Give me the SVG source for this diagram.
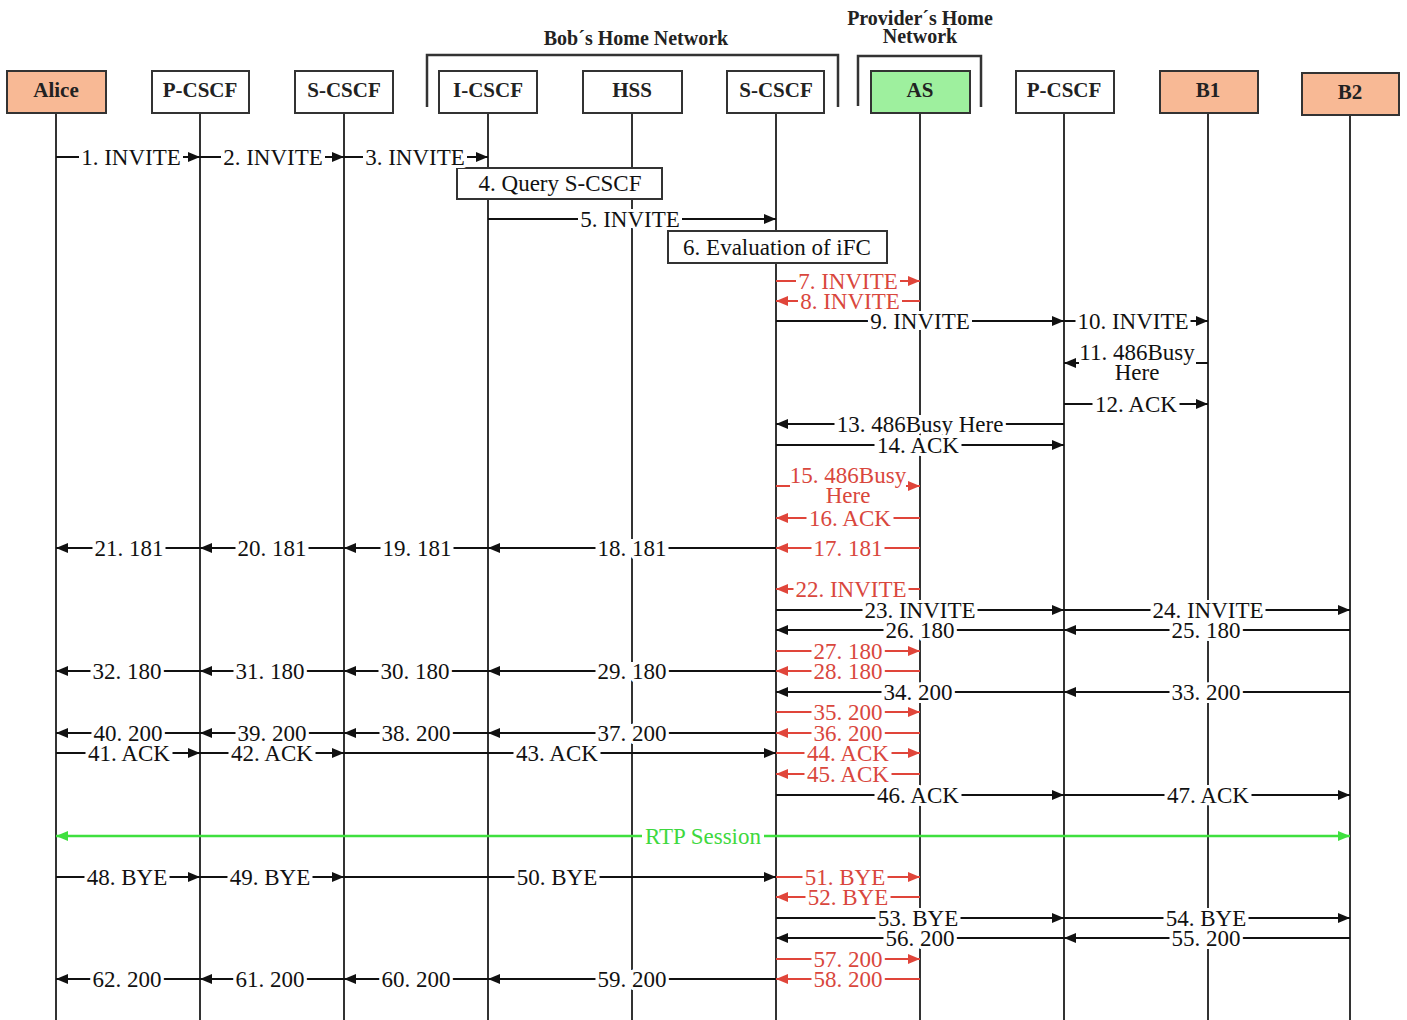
<svg xmlns="http://www.w3.org/2000/svg" width="1407" height="1020" viewBox="0 0 1407 1020">
<style>
.life{stroke:#333;stroke-width:2}
.box{stroke:#333;stroke-width:2;fill:#fff}
.peer{fill:#f8b995}
.as{fill:#9ef09e}
.hdr{font-family:"Liberation Serif",serif;font-weight:bold;font-size:21px;text-anchor:middle;fill:#222}
.net{font-family:"Liberation Serif",serif;font-weight:bold;font-size:20px;text-anchor:middle;fill:#222}
.br{stroke:#333;stroke-width:2.5;fill:none}
.m{stroke:#111;stroke-width:1.8;fill:none;marker-end:url(#ab)}
.r{stroke:#e0453a;marker-end:url(#ar)}
.g{stroke:#3ee03e;stroke-width:2.5;marker-end:url(#ag);marker-start:url(#ags)}
.t{font-family:"Liberation Serif",serif;font-size:23px;text-anchor:middle;fill:#111;stroke:#fff;stroke-width:6px;paint-order:stroke;stroke-linejoin:round}
.n{font-family:"Liberation Serif",serif;font-size:23px;text-anchor:middle;fill:#111}
.tr{fill:#d9473d}
.tg{fill:#3ed83e}
.bg{fill:#fff}
.note{fill:#fff;stroke:#333;stroke-width:2}
</style>
<defs>
<marker id="ab" markerUnits="userSpaceOnUse" markerWidth="13" markerHeight="11" refX="12" refY="5" orient="auto"><path d="M0,0 L12,5 L0,10 z" fill="#111"/></marker>
<marker id="ar" markerUnits="userSpaceOnUse" markerWidth="13" markerHeight="11" refX="12" refY="5" orient="auto"><path d="M0,0 L12,5 L0,10 z" fill="#e0453a"/></marker>
<marker id="ag" markerUnits="userSpaceOnUse" markerWidth="13" markerHeight="11" refX="12" refY="5" orient="auto"><path d="M0,0 L12,5 L0,10 z" fill="#3ee03e"/></marker>
<marker id="ags" markerUnits="userSpaceOnUse" markerWidth="13" markerHeight="11" refX="0" refY="5" orient="auto"><path d="M12,0 L0,5 L12,10 z" fill="#3ee03e"/></marker>
</defs>
<rect width="1407" height="1020" fill="#fff"/>

<g id="bob-network">
<path class="br" d="M427,107 V55 H838 V107"/>
<text class="net" x="636" y="45">Bob´s Home Network</text>
</g>
<g id="provider-network">
<path class="br" d="M858,106 V56 H981 V107"/>
<text class="net" x="920" y="25">Provider´s Home</text>
<text class="net" x="920" y="43">Network</text>
</g>

<g id="alice"><line class="life" x1="56" y1="113" x2="56" y2="1020"/><rect class="box peer" x="7" y="71" width="99" height="42"/><text class="hdr" x="56" y="97">Alice</text></g>
<g id="pcscf1"><line class="life" x1="200" y1="113" x2="200" y2="1020"/><rect class="box" x="152" y="71" width="97" height="42"/><text class="hdr" x="200" y="97">P-CSCF</text></g>
<g id="scscf1"><line class="life" x1="344" y1="113" x2="344" y2="1020"/><rect class="box" x="295" y="71" width="98" height="42"/><text class="hdr" x="344" y="97">S-CSCF</text></g>
<g id="icscf"><line class="life" x1="488" y1="113" x2="488" y2="1020"/><rect class="box" x="439" y="71" width="98" height="42"/><text class="hdr" x="488" y="97">I-CSCF</text></g>
<g id="hss"><line class="life" x1="632" y1="113" x2="632" y2="1020"/><rect class="box" x="583" y="71" width="99" height="42"/><text class="hdr" x="632" y="97">HSS</text></g>
<g id="scscf2"><line class="life" x1="776" y1="113" x2="776" y2="1020"/><rect class="box" x="727" y="71" width="97" height="42"/><text class="hdr" x="776" y="97">S-CSCF</text></g>
<g id="as"><line class="life" x1="920" y1="113" x2="920" y2="1020"/><rect class="box as" x="871" y="71" width="99" height="42"/><text class="hdr" x="920" y="97">AS</text></g>
<g id="pcscf2"><line class="life" x1="1064" y1="113" x2="1064" y2="1020"/><rect class="box" x="1016" y="71" width="98" height="42"/><text class="hdr" x="1064" y="97">P-CSCF</text></g>
<g id="b1"><line class="life" x1="1208" y1="113" x2="1208" y2="1020"/><rect class="box peer" x="1160" y="71" width="98" height="42"/><text class="hdr" x="1208" y="97">B1</text></g>
<g id="b2"><line class="life" x1="1350" y1="115" x2="1350" y2="1020"/><rect class="box peer" x="1302" y="73" width="97" height="42"/><text class="hdr" x="1350" y="99">B2</text></g>

<g id="query-note"><rect class="note" x="457" y="168" width="205" height="31"/><text class="n" x="560" y="191">4. Query S-CSCF</text></g>
<g id="ifc-note"><rect class="note" x="668" y="231" width="219" height="32"/><text class="n" x="777" y="255">6. Evaluation of iFC</text></g>

<g id="connectors">
<line class="m" x1="56" y1="157" x2="200" y2="157"/>
<line class="m" x1="200" y1="157" x2="344" y2="157"/>
<line class="m" x1="344" y1="157" x2="488" y2="157"/>
<line class="m" x1="488" y1="219" x2="776" y2="219"/>
<line class="m r" x1="776" y1="281" x2="920" y2="281"/>
<line class="m r" x1="920" y1="301" x2="776" y2="301"/>
<line class="m" x1="776" y1="321" x2="1064" y2="321"/>
<line class="m" x1="1064" y1="321" x2="1208" y2="321"/>
<line class="m" x1="1208" y1="363" x2="1064" y2="363"/>
<line class="m" x1="1064" y1="404" x2="1208" y2="404"/>
<line class="m" x1="1064" y1="424" x2="776" y2="424"/>
<line class="m" x1="776" y1="445" x2="1064" y2="445"/>
<line class="m r" x1="776" y1="486" x2="920" y2="486"/>
<line class="m r" x1="920" y1="518" x2="776" y2="518"/>
<line class="m r" x1="920" y1="548" x2="776" y2="548"/>
<line class="m" x1="776" y1="548" x2="488" y2="548"/>
<line class="m" x1="488" y1="548" x2="344" y2="548"/>
<line class="m" x1="344" y1="548" x2="200" y2="548"/>
<line class="m" x1="200" y1="548" x2="56" y2="548"/>
<line class="m r" x1="920" y1="589" x2="776" y2="589"/>
<line class="m" x1="776" y1="610" x2="1064" y2="610"/>
<line class="m" x1="1064" y1="610" x2="1350" y2="610"/>
<line class="m" x1="1350" y1="630" x2="1064" y2="630"/>
<line class="m" x1="1064" y1="630" x2="776" y2="630"/>
<line class="m r" x1="776" y1="651" x2="920" y2="651"/>
<line class="m r" x1="920" y1="671" x2="776" y2="671"/>
<line class="m" x1="776" y1="671" x2="488" y2="671"/>
<line class="m" x1="488" y1="671" x2="344" y2="671"/>
<line class="m" x1="344" y1="671" x2="200" y2="671"/>
<line class="m" x1="200" y1="671" x2="56" y2="671"/>
<line class="m" x1="1350" y1="692" x2="1064" y2="692"/>
<line class="m" x1="1064" y1="692" x2="776" y2="692"/>
<line class="m r" x1="776" y1="712" x2="920" y2="712"/>
<line class="m r" x1="920" y1="733" x2="776" y2="733"/>
<line class="m" x1="776" y1="733" x2="488" y2="733"/>
<line class="m" x1="488" y1="733" x2="344" y2="733"/>
<line class="m" x1="344" y1="733" x2="200" y2="733"/>
<line class="m" x1="200" y1="733" x2="56" y2="733"/>
<line class="m" x1="56" y1="753" x2="200" y2="753"/>
<line class="m" x1="200" y1="753" x2="344" y2="753"/>
<line class="m" x1="344" y1="753" x2="776" y2="753"/>
<line class="m r" x1="776" y1="753" x2="920" y2="753"/>
<line class="m r" x1="920" y1="774" x2="776" y2="774"/>
<line class="m" x1="776" y1="795" x2="1064" y2="795"/>
<line class="m" x1="1064" y1="795" x2="1350" y2="795"/>
<line class="g" x1="56" y1="836" x2="1350" y2="836"/>
<line class="m" x1="56" y1="877" x2="200" y2="877"/>
<line class="m" x1="200" y1="877" x2="344" y2="877"/>
<line class="m" x1="344" y1="877" x2="776" y2="877"/>
<line class="m r" x1="776" y1="877" x2="920" y2="877"/>
<line class="m r" x1="920" y1="897" x2="776" y2="897"/>
<line class="m" x1="776" y1="918" x2="1064" y2="918"/>
<line class="m" x1="1064" y1="918" x2="1350" y2="918"/>
<line class="m" x1="1350" y1="938" x2="1064" y2="938"/>
<line class="m" x1="1064" y1="938" x2="776" y2="938"/>
<line class="m r" x1="776" y1="959" x2="920" y2="959"/>
<line class="m r" x1="920" y1="979" x2="776" y2="979"/>
<line class="m" x1="776" y1="979" x2="488" y2="979"/>
<line class="m" x1="488" y1="979" x2="344" y2="979"/>
<line class="m" x1="344" y1="979" x2="200" y2="979"/>
<line class="m" x1="200" y1="979" x2="56" y2="979"/>

<g class="bg">
<rect x="79" y="148" width="104" height="18"/>
<rect x="221" y="148" width="104" height="18"/>
<rect x="363" y="148" width="104" height="18"/>
<rect x="578" y="210" width="104" height="18"/>
<rect x="796" y="272" width="104" height="18"/>
<rect x="798" y="292" width="104" height="18"/>
<rect x="868" y="312" width="104" height="18"/>
<rect x="1075.5" y="312" width="115" height="18"/>
<rect x="1079" y="342" width="117" height="42"/>
<rect x="1092.5" y="395" width="87" height="18"/>
<rect x="834.5" y="415" width="171" height="18"/>
<rect x="874.5" y="436" width="87" height="18"/>
<rect x="790" y="465" width="116" height="42"/>
<rect x="806.5" y="509" width="87" height="18"/>
<rect x="811.5" y="539" width="73" height="18"/>
<rect x="595.5" y="539" width="73" height="18"/>
<rect x="380.5" y="539" width="73" height="18"/>
<rect x="235.5" y="539" width="73" height="18"/>
<rect x="92.5" y="539" width="73" height="18"/>
<rect x="793.5" y="580" width="115" height="18"/>
<rect x="862.5" y="601" width="115" height="18"/>
<rect x="1150.5" y="601" width="115" height="18"/>
<rect x="1169.5" y="621" width="73" height="18"/>
<rect x="883.5" y="621" width="73" height="18"/>
<rect x="811.5" y="642" width="73" height="18"/>
<rect x="811.5" y="662" width="73" height="18"/>
<rect x="595.5" y="662" width="73" height="18"/>
<rect x="378.5" y="662" width="73" height="18"/>
<rect x="233.5" y="662" width="73" height="18"/>
<rect x="90.5" y="662" width="73" height="18"/>
<rect x="1169.5" y="683" width="73" height="18"/>
<rect x="881.5" y="683" width="73" height="18"/>
<rect x="811.5" y="703" width="73" height="18"/>
<rect x="811.5" y="724" width="73" height="18"/>
<rect x="595.5" y="724" width="73" height="18"/>
<rect x="379.5" y="724" width="73" height="18"/>
<rect x="235.5" y="724" width="73" height="18"/>
<rect x="91.5" y="724" width="73" height="18"/>
<rect x="85.5" y="744" width="87" height="18"/>
<rect x="228.5" y="744" width="87" height="18"/>
<rect x="513.5" y="744" width="87" height="18"/>
<rect x="804.5" y="744" width="87" height="18"/>
<rect x="804.5" y="765" width="87" height="18"/>
<rect x="874.5" y="786" width="87" height="18"/>
<rect x="1164.5" y="786" width="87" height="18"/>
<rect x="642" y="827" width="122" height="18"/>
<rect x="84.5" y="868" width="85" height="18"/>
<rect x="227.5" y="868" width="85" height="18"/>
<rect x="514.5" y="868" width="85" height="18"/>
<rect x="802.5" y="868" width="85" height="18"/>
<rect x="805.5" y="888" width="85" height="18"/>
<rect x="875.5" y="909" width="85" height="18"/>
<rect x="1163.5" y="909" width="85" height="18"/>
<rect x="1169.5" y="929" width="73" height="18"/>
<rect x="883.5" y="929" width="73" height="18"/>
<rect x="811.5" y="950" width="73" height="18"/>
<rect x="811.5" y="970" width="73" height="18"/>
<rect x="595.5" y="970" width="73" height="18"/>
<rect x="379.5" y="970" width="73" height="18"/>
<rect x="233.5" y="970" width="73" height="18"/>
<rect x="90.5" y="970" width="73" height="18"/>
</g>

<text class="t" x="131" y="165">1. INVITE</text>
<text class="t" x="273" y="165">2. INVITE</text>
<text class="t" x="415" y="165">3. INVITE</text>
<text class="t" x="630" y="227">5. INVITE</text>
<text class="t tr" x="848" y="289">7. INVITE</text>
<text class="t tr" x="850" y="309">8. INVITE</text>
<text class="t" x="920" y="329">9. INVITE</text>
<text class="t" x="1133" y="329">10. INVITE</text>
<text class="n" x="1137" y="360">11. 486Busy</text>
<text class="n" x="1137" y="380">Here</text>
<text class="t" x="1136" y="412">12. ACK</text>
<text class="t" x="920" y="432">13. 486Busy Here</text>
<text class="t" x="918" y="453">14. ACK</text>
<text class="n tr" x="848" y="483">15. 486Busy</text>
<text class="n tr" x="848" y="503">Here</text>
<text class="t tr" x="850" y="526">16. ACK</text>
<text class="t tr" x="848" y="556">17. 181</text>
<text class="t" x="632" y="556">18. 181</text>
<text class="t" x="417" y="556">19. 181</text>
<text class="t" x="272" y="556">20. 181</text>
<text class="t" x="129" y="556">21. 181</text>
<text class="t tr" x="851" y="597">22. INVITE</text>
<text class="t" x="920" y="618">23. INVITE</text>
<text class="t" x="1208" y="618">24. INVITE</text>
<text class="t" x="1206" y="638">25. 180</text>
<text class="t" x="920" y="638">26. 180</text>
<text class="t tr" x="848" y="659">27. 180</text>
<text class="t tr" x="848" y="679">28. 180</text>
<text class="t" x="632" y="679">29. 180</text>
<text class="t" x="415" y="679">30. 180</text>
<text class="t" x="270" y="679">31. 180</text>
<text class="t" x="127" y="679">32. 180</text>
<text class="t" x="1206" y="700">33. 200</text>
<text class="t" x="918" y="700">34. 200</text>
<text class="t tr" x="848" y="720">35. 200</text>
<text class="t tr" x="848" y="741">36. 200</text>
<text class="t" x="632" y="741">37. 200</text>
<text class="t" x="416" y="741">38. 200</text>
<text class="t" x="272" y="741">39. 200</text>
<text class="t" x="128" y="741">40. 200</text>
<text class="t" x="129" y="761">41. ACK</text>
<text class="t" x="272" y="761">42. ACK</text>
<text class="t" x="557" y="761">43. ACK</text>
<text class="t tr" x="848" y="761">44. ACK</text>
<text class="t tr" x="848" y="782">45. ACK</text>
<text class="t" x="918" y="803">46. ACK</text>
<text class="t" x="1208" y="803">47. ACK</text>
<text class="t tg" x="703" y="844">RTP Session</text>
<text class="t" x="127" y="885">48. BYE</text>
<text class="t" x="270" y="885">49. BYE</text>
<text class="t" x="557" y="885">50. BYE</text>
<text class="t tr" x="845" y="885">51. BYE</text>
<text class="t tr" x="848" y="905">52. BYE</text>
<text class="t" x="918" y="926">53. BYE</text>
<text class="t" x="1206" y="926">54. BYE</text>
<text class="t" x="1206" y="946">55. 200</text>
<text class="t" x="920" y="946">56. 200</text>
<text class="t tr" x="848" y="967">57. 200</text>
<text class="t tr" x="848" y="987">58. 200</text>
<text class="t" x="632" y="987">59. 200</text>
<text class="t" x="416" y="987">60. 200</text>
<text class="t" x="270" y="987">61. 200</text>
<text class="t" x="127" y="987">62. 200</text>
</g>
</svg>
